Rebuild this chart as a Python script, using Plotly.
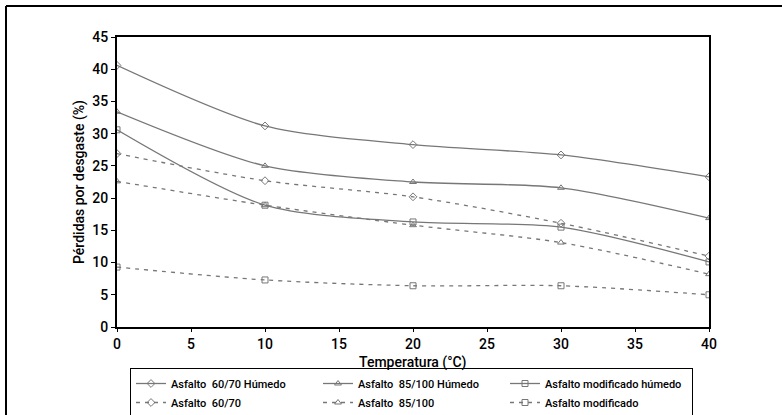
import plotly.graph_objects as go

temps = [0, 10, 20, 30, 40]
a6070_hum = [40.6, 31.2, 28.3, 26.7, 23.3]
a85100_hum = [33.4, 25.0, 22.5, 21.6, 16.9]
amod_hum = [30.6, 18.9, 16.3, 15.5, 10.1]
a6070 = [26.9, 22.7, 20.2, 16.1, 11.0]
a85100 = [22.6, 18.9, 15.8, 13.1, 8.2]
amod = [9.3, 7.3, 6.4, 6.4, 5.0]

names = ["Asfalto  60/70 Húmedo", "Asfalto  85/100 Húmedo", "Asfalto modificado húmedo",
         "Asfalto  60/70", "Asfalto  85/100", "Asfalto modificado"]
series = [a6070_hum, a85100_hum, amod_hum, a6070, a85100, amod]
symbols = ["diamond-open", "triangle-up-open", "square-open"] * 2
dashes = ["solid"] * 3 + ["4px,5px"] * 3
x_title = "Temperatura (°C)"
y_title = "Pérdidas por desgaste (%)"

FONT = "Roboto, Liberation Sans Narrow, sans-serif"
GRAY = "#777777"

fig = go.Figure()
for name, ys, sym, dash in zip(names, series, symbols, dashes):
    fig.add_trace(go.Scatter(
        x=temps, y=ys, name=name, mode="lines+markers",
        line=dict(color=GRAY, width=1.3, dash=dash, shape="spline", smoothing=0.8),
        marker=dict(symbol=sym, size=6, color=GRAY, line=dict(color=GRAY, width=1)),
    ))

fig.update_layout(
    width=782, height=415,
    margin=dict(l=117, r=73, t=37, b=88, autoexpand=False),
    paper_bgcolor="white", plot_bgcolor="white",
    font=dict(family=FONT, size=14, color="black", weight=500),
    showlegend=True,
    legend=dict(orientation="h", xref="container", yref="container",
                x=130 / 782, y=1 - 368 / 415, xanchor="left", yanchor="top",
                bordercolor="black", borderwidth=1, bgcolor="white",
                font=dict(family=FONT, size=11, color="black", weight=500),
                entrywidth=142, tracegroupgap=0, itemwidth=30),
    xaxis=dict(range=[0, 40], tickvals=[0, 5, 10, 15, 20, 25, 30, 35, 40],
               showgrid=False, zeroline=False, showline=True, linecolor="black", linewidth=2,
               mirror=True, ticks="outside", ticklen=3, tickcolor="black", automargin=False),
    yaxis=dict(range=[0, 45], tickvals=[0, 5, 10, 15, 20, 25, 30, 35, 40, 45],
               showgrid=False, zeroline=False, showline=True, linecolor="black", linewidth=2,
               mirror=True, ticks="outside", ticklen=4, tickcolor="black", automargin=True,
               title=dict(text=y_title, standoff=4, font=dict(size=14))),
    annotations=[
        dict(text=x_title, xref="paper", yref="paper", x=0.5, y=-0.122,
             xanchor="center", yanchor="middle", showarrow=False,
             font=dict(family=FONT, size=14, color="black", weight=500)),
    ],
    shapes=[
        dict(type="line", xref="paper", yref="paper", x0=-0.1875, x1=-0.1875, y0=1.107, y1=-0.31,
             line=dict(color="black", width=2)),
        dict(type="line", xref="paper", yref="paper", x0=-0.1875, x1=1.125, y0=1.107, y1=1.107,
             line=dict(color="black", width=2)),
    ],
)

fig.write_html("out.html", config={"displayModeBar": False},
               post_script="document.body.style.margin='0';")
